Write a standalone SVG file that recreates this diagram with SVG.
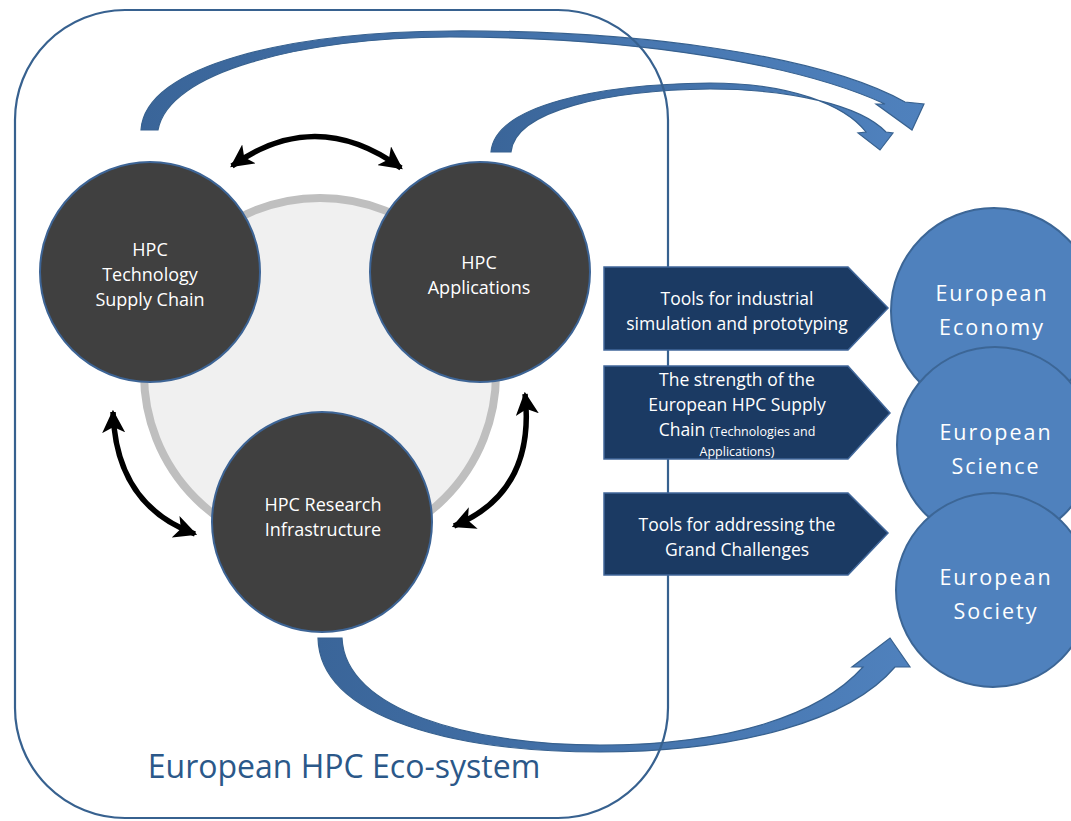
<svg xmlns="http://www.w3.org/2000/svg" width="1071" height="821" viewBox="0 0 1071 821">
<style>
.t{font-family:"Open Sans","Liberation Sans",sans-serif;fill:#fff;text-anchor:middle}
.dk{fill:#404040;stroke:#3d6495;stroke-width:2}
.eu{fill:#4f81bd;stroke:#3c6696;stroke-width:2}
.pent{fill:#1b3a63;stroke:#41679a;stroke-width:1.5}
.blk{fill:none;stroke:#000;stroke-width:5.5;marker-start:url(#ah);marker-end:url(#ah)}
.band{stroke:#37618f;stroke-width:1.2}
.ct{font-size:18px}
.pt{font-size:17.5px}
.et{font-size:21.5px;letter-spacing:2px}
</style>
<defs>
<marker id="ah" viewBox="0 0 10 10" refX="9" refY="5" markerWidth="4.2" markerHeight="4.2" orient="auto-start-reverse" markerUnits="strokeWidth">
<path d="M0,0 L10,5 L0,10 L2.5,5 Z" fill="#000"/>
</marker>
<linearGradient id="bg" x1="0" y1="0" x2="1" y2="0">
<stop offset="0" stop-color="#3a6599"/>
<stop offset="1" stop-color="#4f81bd"/>
</linearGradient>
</defs>
<rect width="1071" height="821" fill="#fff"/>

<g id="connectors">
<path class="band" fill="url(#bg)" d="M141,130 C145,65 290,32 450,31 C640,30 820,55 905,102 L924,104 L912,130 L876,104 L885,104 C800,65 640,37 450,37 C300,38 168,72 158,130 Z"/>
<path class="band" fill="url(#bg)" d="M491,152 C495,105 600,84 710,83 C790,83 845,105 866,132 L858,133 L880,150 L893,133 L886,132 C860,105 790,89 710,89 C610,90 515,110 511,152 Z"/>
<path class="band" fill="url(#bg)" d="M318,638 C320,720 460,752 600,752 C740,752 850,720 895,667 L910,667 L890,638 L852,667 L863,667 C820,715 730,745 600,745 C470,745 345,710 342,638 Z"/>
<path class="blk" d="M232,166 Q316,106 401,168"/>
<path class="blk" d="M113,412 Q116,505 195,534"/>
<path class="blk" d="M525,394 Q536,492 454,526"/>
</g>

<g id="ecosystem">
<rect x="15" y="10" width="653" height="808" rx="110" ry="110" fill="none" stroke="#37618f" stroke-width="2.2"/>
<text x="344" y="778" font-family="'Open Sans','Liberation Sans',sans-serif" font-size="32" fill="#2b5889" text-anchor="middle">European HPC Eco-system</text>
</g>

<g id="ring">
<circle cx="320" cy="374" r="176" fill="#f0f0f0" stroke="#bfbfbf" stroke-width="8"/>
</g>

<g id="tech">
<circle class="dk" cx="150" cy="272" r="110"/>
<text class="t ct" x="150" y="256">HPC</text>
<text class="t ct" x="150" y="281">Technology</text>
<text class="t ct" x="150" y="306">Supply Chain</text>
</g>
<g id="apps">
<circle class="dk" cx="480" cy="272" r="110"/>
<text class="t ct" x="479" y="269">HPC</text>
<text class="t ct" x="479" y="294">Applications</text>
</g>
<g id="research">
<circle class="dk" cx="322" cy="522" r="110"/>
<text class="t ct" x="323" y="511">HPC Research</text>
<text class="t ct" x="323" y="536">Infrastructure</text>
</g>

<g id="tools-industrial">
<path class="pent" d="M604,267 L848,267 L888,308 L848,350 L604,350 Z"/>
<text class="t pt" x="737" y="305">Tools for industrial</text>
<text class="t pt" x="737" y="330">simulation and prototyping</text>
</g>
<g id="strength">
<path class="pent" d="M604,366 L848,366 L890,413 L848,459 L604,459 Z"/>
<text class="t pt" x="737" y="386">The strength of the</text>
<text class="t pt" x="737" y="411">European HPC Supply</text>
<text class="t pt" x="737" y="436">Chain <tspan font-size="12.5">(Technologies and</tspan></text>
<text class="t" font-size="12.5" x="737" y="456">Applications)</text>
</g>
<g id="tools-challenges">
<path class="pent" d="M604,493 L848,493 L888,533 L848,575 L604,575 Z"/>
<text class="t pt" x="737" y="531">Tools for addressing the</text>
<text class="t pt" x="737" y="556">Grand Challenges</text>
</g>

<g id="economy">
<circle class="eu" cx="994" cy="311" r="103"/>
<text class="t et" x="992" y="301">European</text>
<text class="t et" x="992" y="335">Economy</text>
</g>
<g id="science">
<circle class="eu" cx="995" cy="445" r="98"/>
<text class="t et" x="996" y="440">European</text>
<text class="t et" x="996" y="474">Science</text>
</g>
<g id="society">
<circle class="eu" cx="993" cy="590" r="97"/>
<text class="t et" x="996" y="585">European</text>
<text class="t et" x="996" y="619">Society</text>
</g>
</svg>
